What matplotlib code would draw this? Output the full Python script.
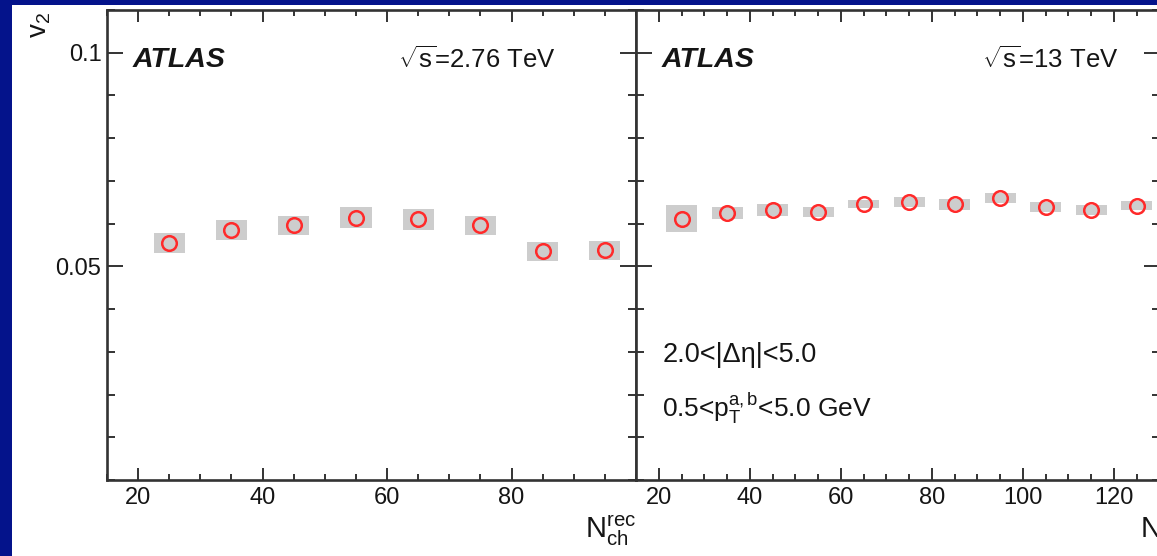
"""v2 vs N_ch^rec for 2.76 TeV and 13 TeV pp, ATLAS-style two-panel figure."""
import matplotlib
matplotlib.use('Agg')
import matplotlib.pyplot as plt
from matplotlib.patches import Rectangle
from matplotlib.ticker import MultipleLocator, FixedLocator, FixedFormatter

plt.rcParams['font.family'] = ['Liberation Sans', 'DejaVu Sans']
plt.rcParams['mathtext.fontset'] = 'custom'
plt.rcParams['mathtext.rm'] = 'Liberation Sans'
plt.rcParams['mathtext.it'] = 'Liberation Sans:italic'
plt.rcParams['mathtext.bf'] = 'Liberation Sans:bold'

# 2.76 TeV
nch_276 = [25, 35, 45, 55, 65, 75, 85, 95]
v2_276 = [0.0555, 0.0585, 0.0596, 0.0614, 0.0610, 0.0596, 0.0535, 0.0538]
sys_276 = [0.0023, 0.0023, 0.0023, 0.0024, 0.0024, 0.0023, 0.0022, 0.0022]

# 13 TeV
nch_13 = [25, 35, 45, 55, 65, 75, 85, 95, 105, 115, 125]
v2_13 = [0.0612, 0.0625, 0.0631, 0.0627, 0.0646, 0.0650, 0.0645, 0.0660,
         0.0639, 0.0632, 0.0642]
sys_13 = [0.0031, 0.0015, 0.0014, 0.0011, 0.0010, 0.0012, 0.0012, 0.0011,
          0.0012, 0.0012, 0.0011]

W, H = 1157, 556
BG = '#04138b'
INK = '#151515'
AXC = '#333333'

fig = plt.figure(figsize=(W / 100, H / 100), dpi=100, facecolor=BG)
fig.patches.append(Rectangle((12 / W, 0), 1, 1 - 5 / H, transform=fig.transFigure,
                             facecolor='white', edgecolor='none', zorder=-10))

bot = (H - 480) / H
hgt = 470 / H
ax1 = fig.add_axes([107 / W, bot, 529 / W, hgt])
ax2 = fig.add_axes([636 / W, bot, 523.5 / W, hgt])


def draw_panel(ax, x, y, sy, half_w, xmax, majors):
    ax.bar(x, [2 * s for s in sy], bottom=[v - s for v, s in zip(y, sy)],
           width=2 * half_w, color='#cdcdcd', edgecolor='none', zorder=2)
    ax.plot(x, y, 'o', mfc='none', mec='#ff2a2a', ms=10.5, mew=1.8, zorder=3)
    ax.set_xlim(15, xmax)
    ax.set_ylim(0, 0.11)
    ax.xaxis.set_major_locator(FixedLocator(majors))
    ax.xaxis.set_minor_locator(MultipleLocator(5))
    ax.yaxis.set_major_locator(FixedLocator([0.05, 0.1]))
    ax.yaxis.set_major_formatter(FixedFormatter(['0.05', '0.1']))
    ax.yaxis.set_minor_locator(MultipleLocator(0.01))
    ax.tick_params(which='both', direction='in', top=True, right=True,
                   color=AXC, width=1.4, labelsize=17, labelcolor=INK)
    ax.tick_params(axis='x', which='major', length=8.5, pad=5)
    ax.tick_params(axis='x', which='minor', length=4.3)
    ax.tick_params(axis='y', which='major', length=11.5, pad=4)
    ax.tick_params(axis='y', which='minor', length=5.8)
    for sp in ax.spines.values():
        sp.set_color(AXC)
        sp.set_linewidth(1.9)
    ax.text(0.049, 0.894, 'ATLAS', transform=ax.transAxes, fontsize=20.5,
            fontweight='bold', fontstyle='italic', color=INK, va='center', ha='left')


draw_panel(ax1, nch_276, v2_276, sys_276, 2.5, 100, [20, 40, 60, 80])
draw_panel(ax2, nch_13, v2_13, sys_13, 3.4, 130, [20, 40, 60, 80, 100, 120])
ax2.tick_params(axis='y', labelleft=False)

ax1.text(0.55, 0.894, r'$\sqrt{\mathrm{s}}$=2.76 TeV', transform=ax1.transAxes,
         fontsize=18.5, color=INK, va='center', ha='left')
ax2.text(0.661, 0.894, r'$\sqrt{\mathrm{s}}$=13 TeV', transform=ax2.transAxes,
         fontsize=18.5, color=INK, va='center', ha='left')

ax2.text(0.05, 0.266, '2.0<|Δη|<5.0', transform=ax2.transAxes,
         fontsize=19.5, color=INK, va='center', ha='left')
ax2.text(0.05, 0.153, r'0.5<$\mathrm{p}_{\mathrm{T}}^{\mathrm{a,b}}$<5.0 GeV',
         transform=ax2.transAxes, fontsize=19, color=INK, va='center', ha='left')

xlab = r'$\mathrm{N}_{\mathrm{ch}}^{\mathrm{rec}}$'
ax1.text(1.0, -0.108, xlab, transform=ax1.transAxes, fontsize=21, color=INK,
         va='center', ha='right')
ax2.text(0.962, -0.108, xlab, transform=ax2.transAxes, fontsize=21, color=INK,
         va='center', ha='left')

fig.text(40 / W, 1 - 12 / H, r'$\mathrm{v}_{2}$', rotation=90, fontsize=20,
         color=INK, ha='center', va='top')

fig.savefig('out.png', dpi=100, facecolor=BG)
